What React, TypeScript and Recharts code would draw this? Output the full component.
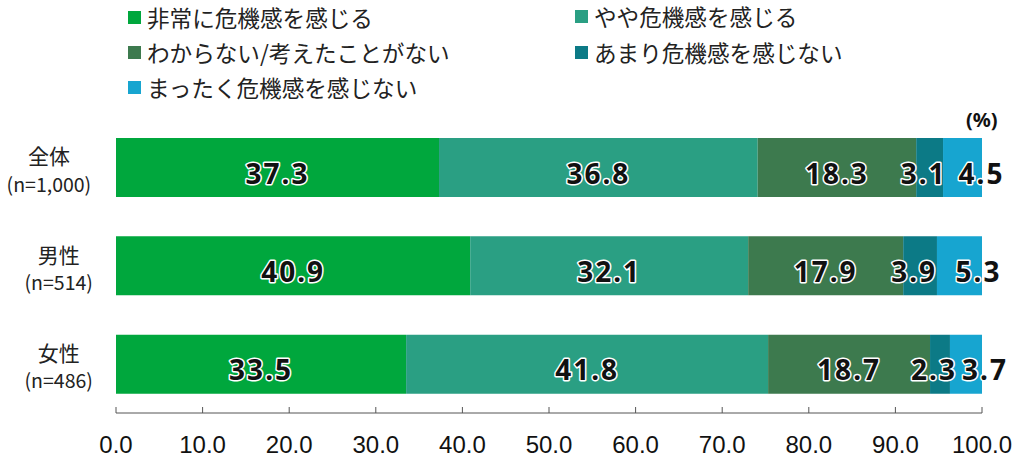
import { Bar, BarChart, LabelList, XAxis, YAxis } from 'recharts';

// categories and sample sizes
const categories = ['全体', '男性', '女性'];
const sampleSizes = ['(n=1,000)', '(n=514)', '(n=486)'];

// series names, in stacking order
const seriesNames = [
  '非常に危機感を感じる',
  'やや危機感を感じる',
  'わからない/考えたことがない',
  'あまり危機感を感じない',
  'まったく危機感を感じない',
];

// values per series (one entry per category)
const veryConcerned = [37.3, 40.9, 33.5];
const somewhatConcerned = [36.8, 32.1, 41.8];
const dontKnow = [18.3, 17.9, 18.7];
const notVeryConcerned = [3.1, 3.9, 2.3];
const notConcernedAtAll = [4.5, 5.3, 3.7];

const xTicks = [0, 10, 20, 30, 40, 50, 60, 70, 80, 90, 100];

const COLORS = ['#00a73d', '#2a9f83', '#3d7a4e', '#0c7a86', '#17a5d0'];
const seriesKeys = ['s0', 's1', 's2', 's3', 's4'];
const seriesValues = [veryConcerned, somewhatConcerned, dontKnow, notVeryConcerned, notConcernedAtAll];

const data = categories.map((name, i) => {
  const row: Record<string, any> = { name, n: sampleSizes[i] };
  seriesKeys.forEach((k, s) => {
    row[k] = seriesValues[s][i];
  });
  return row;
});

const JP_FONT = '"Noto Sans CJK JP", "Noto Sans", sans-serif';

// bold value label: black fill with a white outline
const makeLabel = (dx: number) => (props: any) => {
  const { x, y, width, height, value } = props;
  return (
    <text
      x={Number(x) + Number(width) / 2 + dx}
      y={Number(y) + Number(height) / 2 + 5}
      textAnchor="middle"
      dominantBaseline="central"
      fontFamily='"Noto Sans", "Open Sans", sans-serif'
      fontWeight={700}
      fontSize={28}
      letterSpacing={2}
      fill="#111"
      stroke="#fff"
      strokeWidth={3}
      paintOrder="stroke"
      strokeLinejoin="round"
    >
      {Number(value).toFixed(1)}
    </text>
  );
};

const labelShift = [0, 0, 0, -6, 19];

const CategoryTick = (props: any) => {
  const { y, payload, index } = props;
  const n = sampleSizes[index] ?? '';
  const cx = 93 - n.length * 4.9;
  return (
    <g>
      <text x={cx} y={y - 12} textAnchor="middle" dominantBaseline="central" fontFamily={JP_FONT} fontSize={21} fill="#222">
        {payload.value}
      </text>
      <text x={cx} y={y + 16} textAnchor="middle" dominantBaseline="central" fontFamily={JP_FONT} fontSize={19.5} fill="#222">
        {n}
      </text>
    </g>
  );
};

const ValueTick = (props: any) => {
  const { x, y, payload } = props;
  return (
    <g>
      <line x1={x} x2={x} y1={y - 6} y2={y} stroke="#555" strokeWidth={1} />
      <text x={x} y={y + 40} textAnchor="middle" fontFamily='"Liberation Sans", Arial, sans-serif' fontSize={24} fill="#111">
        {Number(payload.value).toFixed(1)}
      </text>
    </g>
  );
};

const legendPlacement = [
  { left: 128, top: 17 },
  { left: 575, top: 16 },
  { left: 128, top: 52 },
  { left: 575, top: 52 },
  { left: 128, top: 87 },
];

const App = () => (
  <div style={{ position: 'absolute', left: 0, top: 0, width: 1024, height: 467, background: '#fff' }}>
    {seriesNames.map((name, i) => (
      <div
        key={name}
        style={{
          position: 'absolute',
          left: legendPlacement[i].left,
          top: legendPlacement[i].top - 15,
          height: 30,
          display: 'flex',
          alignItems: 'center',
          fontFamily: JP_FONT,
          fontSize: 22.6,
          color: '#222',
          whiteSpace: 'nowrap',
        }}
      >
        <span style={{ display: 'inline-block', width: 13, height: 13, background: COLORS[i], marginRight: 6 }} />
        {name}
      </div>
    ))}
    <div
      style={{
        position: 'absolute',
        left: 966,
        top: 106,
        fontFamily: '"Noto Sans", sans-serif',
        fontWeight: 700,
        fontSize: 20,
        color: '#111',
      }}
    >
      (%)
    </div>
    <BarChart
      width={1024}
      height={467}
      data={data}
      layout="vertical"
      margin={{ top: 118, right: 42, bottom: 0, left: 0 }}
      barSize={59}
    >
      <XAxis
        type="number"
        domain={[0, 100]}
        ticks={xTicks}
        height={54}
        tickSize={0}
        tickMargin={0}
        tickLine={false}
        axisLine={{ stroke: '#555' }}
        tick={<ValueTick />}
        interval={0}
        allowDataOverflow
      />
      <YAxis
        type="category"
        dataKey="name"
        width={116}
        axisLine={false}
        tickLine={false}
        tick={<CategoryTick />}
        interval={0}
      />
      {seriesKeys.map((k, i) => (
        <Bar key={k} dataKey={k} name={seriesNames[i]} stackId="a" fill={COLORS[i]} isAnimationActive={false}>
          <LabelList dataKey={k} content={makeLabel(labelShift[i])} />
        </Bar>
      ))}
    </BarChart>
  </div>
);

export default App;
